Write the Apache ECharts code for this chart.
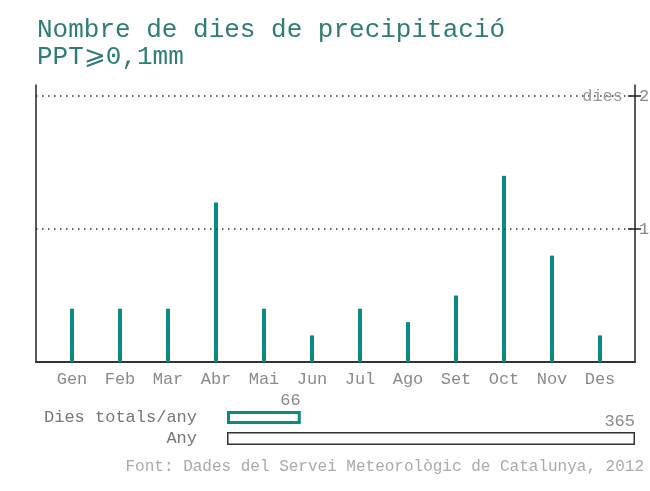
<!DOCTYPE html>
<html>
<head>
<meta charset="utf-8">
<script src="https://cdn.jsdelivr.net/npm/echarts@6/dist/echarts.min.js"></script>
<style>
  html, body { margin: 0; padding: 0; background: #fff; }
  #main { width: 650px; height: 491px; }
</style>
</head>
<body>
<div id="main"></div>
<script>
// dades
var mesos = ['Gen', 'Feb', 'Mar', 'Abr', 'Mai', 'Jun', 'Jul', 'Ago', 'Set', 'Oct', 'Nov', 'Des'];
var dies = [4, 4, 4, 12, 4, 2, 4, 3, 5, 14, 8, 2];
var guies = [10, 20];
var totalsNoms = ['Any', 'Dies totals/any'];
var totals = [365, 66];

var font = '"Liberation Mono", "DejaVu Sans Mono", monospace';
var teal = '#0b8b85';
var yMax = 20.83;

var chart = echarts.init(document.getElementById('main'));

var option = {
    animation: false,
    textStyle: { fontFamily: font },
    title: {
        text: 'Nombre de dies de precipitació\nPPT⩾0,1mm',
        left: 32,
        top: 12,
        textStyle: {
            color: '#2f7d76',
            fontFamily: font,
            fontSize: 26,
            fontWeight: 'normal',
            lineHeight: 27
        }
    },
    graphic: [{
        type: 'text',
        right: 6,
        top: 459,
        style: {
            text: 'Font: Dades del Servei Meteorològic de Catalunya, 2012',
            fill: '#aaa',
            font: '16px ' + font
        }
    }],
    grid: [
        // marc
        { left: 36, right: 15, top: 85, bottom: 129, outerBoundsMode: 'none' },
        // barres
        { left: 48, right: 26, top: 85, bottom: 129, outerBoundsMode: 'none' },
        // totals
        { left: 227, right: 15, top: 407, height: 42, outerBoundsMode: 'none' }
    ],
    xAxis: [
        {
            gridIndex: 0, type: 'value', min: 0, max: 1,
            axisLine: { show: true, lineStyle: { color: '#333', width: 2 } },
            axisTick: { show: false }, axisLabel: { show: false }, splitLine: { show: false }
        },
        {
            gridIndex: 1, type: 'category', data: mesos,
            axisLine: { show: false }, axisTick: { show: false },
            axisLabel: { color: '#8a8a8a', fontSize: 17, fontFamily: font, margin: 9, interval: 0 }
        },
        {
            gridIndex: 2, type: 'value', min: 0, max: 365, show: false
        }
    ],
    yAxis: [
        {
            gridIndex: 0, type: 'value', min: 0, max: yMax, position: 'left',
            axisLine: { show: true, lineStyle: { color: '#222', width: 1.5 } },
            axisTick: { show: false }, axisLabel: { show: false }, splitLine: { show: false }
        },
        {
            gridIndex: 0, type: 'value', min: 0, max: yMax, position: 'right',
            axisLine: { show: true, lineStyle: { color: '#222', width: 1.5 } },
            axisTick: { show: true, length: 6, customValues: guies, lineStyle: { color: '#222', width: 1.5 } },
            axisLabel: { show: true, customValues: guies, color: '#888', fontSize: 17, fontFamily: font, margin: 4 },
            splitLine: { show: false }
        },
        {
            gridIndex: 0, type: 'value', min: 0, max: yMax, position: 'right',
            axisLine: { show: false },
            axisTick: { show: true, inside: true, length: 7, customValues: guies, lineStyle: { color: '#222', width: 1.5 } },
            axisLabel: { show: false }, splitLine: { show: false }
        },
        {
            gridIndex: 1, type: 'value', min: 0, max: yMax, show: false
        },
        {
            gridIndex: 2, type: 'category', data: totalsNoms,
            axisLine: { show: false }, axisTick: { show: false },
            axisLabel: { color: '#777', fontSize: 17, fontFamily: font, margin: 30, interval: 0 }
        }
    ],
    series: [
        {
            // línies de guia
            type: 'line',
            xAxisIndex: 0,
            yAxisIndex: 0,
            data: [],
            silent: true,
            markLine: {
                symbol: 'none',
                silent: true,
                lineStyle: { color: '#333', type: [1.5, 4.5], width: 1.5 },
                data: guies.map(function (v, i) {
                    return {
                        yAxis: v,
                        label: i === guies.length - 1 ? {
                            show: true, position: 'insideEnd', formatter: 'dies',
                            color: '#999', fontSize: 17, fontFamily: font, distance: 12
                        } : { show: false }
                    };
                })
            }
        },
        {
            name: 'dies',
            type: 'bar',
            xAxisIndex: 1,
            yAxisIndex: 3,
            data: dies,
            barWidth: 4,
            itemStyle: { color: teal }
        },
        {
            type: 'bar',
            xAxisIndex: 2,
            yAxisIndex: 4,
            barWidth: 13,
            data: [
                { value: totals[0], itemStyle: { color: '#fff', borderColor: '#333', borderWidth: 1.5 } },
                { value: totals[1], itemStyle: { color: '#fff', borderColor: teal, borderWidth: 3 } }
            ],
            label: {
                show: true,
                position: ['100%', 0],
                align: 'right',
                verticalAlign: 'bottom',
                offset: [0, -2],
                color: '#888',
                fontSize: 17,
                fontFamily: font
            }
        }
    ]
};

chart.setOption(option);
</script>
</body>
</html>
